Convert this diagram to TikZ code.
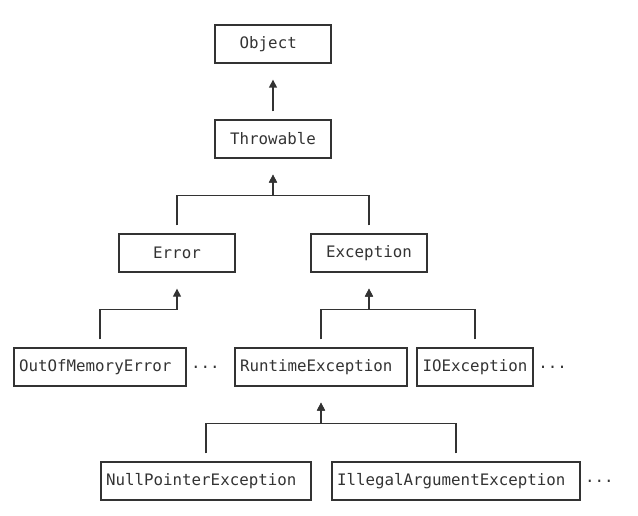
\documentclass[tikz,border=0pt]{standalone}
\usepackage{fontspec}
\setmonofont{DejaVu Sans Mono}
\usetikzlibrary{arrows.meta}
\usetikzlibrary{positioning}
\definecolor{gray1}{RGB}{51, 51, 51}
\newcommand{\pad}{\phantom{x}}

\begin{document}
\begin{tikzpicture}[x=1pt, y=-1pt, line width =1.3pt, color=gray1,
  cls/.style={draw, minimum width=116pt, minimum height=38pt, inner xsep=5pt, font=\ttfamily\fontsize{15.8}{19}\selectfont},
  more/.style={inner xsep=0pt, font=\ttfamily\fontsize{15.8}{19}\selectfont}]
  \useasboundingbox (0,0) rectangle (638,516);
  \node[cls] (obj) at (273,44) {Object\pad};
  \node[cls] (thr) at (273,139) {Throwable};
  \node[cls] (err) at (177,253) {Error};
  \node[cls] (exc) at (369,253) {Exception};
  \node[cls] (oom) at (100,367) {OutOfMemoryError\pad};
  \node[cls] (rte) at (321,367) {RuntimeException\pad};
  \node[cls] (ioe) at (475,367) {IOException};
  \node[cls] (npe) at (206,481) {NullPointerException\pad};
  \node[cls] (iae) at (456,481) {IllegalArgumentException\pad};
  \node[more, right=4pt of oom] (d1) {...};
  \node[more, right=4pt of ioe] (d2) {...};
  \node[more, right=4pt of iae] (d3) {...};
  \foreach \kid/\mom in {thr/obj, err/thr, exc/thr, oom/err, rte/exc, ioe/exc, npe/rte, iae/rte}
   \draw[-{Triangle[length=8pt,width=8pt]}] ([yshift=8pt]\kid.north) |- ([yshift=-37pt]\mom.south) -- ([yshift=-16pt]\mom.south);
\end{tikzpicture}
\end{document}
